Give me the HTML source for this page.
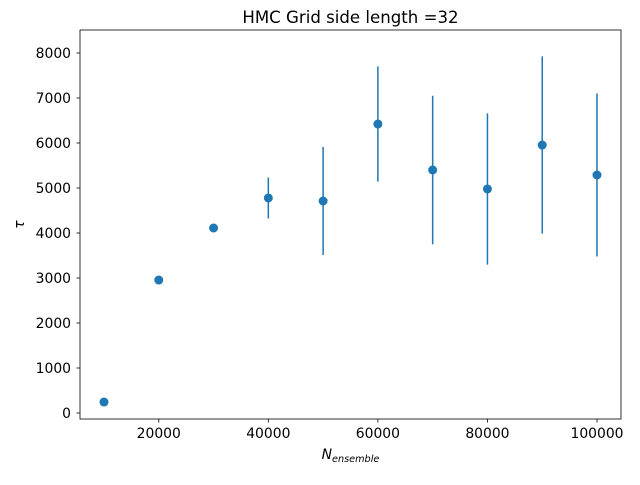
<!DOCTYPE html>
<html><head><meta charset="utf-8"><style>
body{margin:0;background:#fff;}
svg text{font-family:"DejaVu Sans","Liberation Sans",sans-serif;}
</style></head><body>
<svg width="640" height="480" xmlns="http://www.w3.org/2000/svg">
<rect width="640" height="480" fill="#fff"/>
<g id="plot"></g>
</svg>
<script>
const categories=[10000,20000,30000,40000,50000,60000,70000,80000,90000,100000];
const tauValues=[244,2955,4111,4778,4711,6422,5400,4978,5955,5289];
const tauErrors=[0,0,0,455,1200,1280,1650,1680,1970,1810];
const xTicks=[20000,40000,60000,80000,100000];
const yTicks=[0,1000,2000,3000,4000,5000,6000,7000,8000];
const L=80,R=621,T=30,B=419;
const sx=v=>104+(v-10000)*(597-104)/90000;
const sy=v=>413-v*0.045;
const NS="http://www.w3.org/2000/svg";
const g=document.getElementById('plot');
function mk(t,a,p){const e=document.createElementNS(NS,t);for(const k in a)e.setAttribute(k,a[k]);(p||g).appendChild(e);return e;}
const frame=mk('rect',{x:L,y:T,width:R-L,height:B-T,fill:'none',stroke:'#000','stroke-width':0.8});


xTicks.forEach(v=>{const x=sx(v);
 const l=mk('line',{x1:x,x2:x,y1:B,y2:B+3.5,stroke:'#000','stroke-width':0.8});
 
 
 const t=mk('text',{x:x,y:B+19,'font-size':13.9,'text-anchor':'middle'});t.textContent=v;
 
 
});
yTicks.forEach(v=>{const y=sy(v);
 const l=mk('line',{x1:L-3.5,x2:L,y1:y,y2:y,stroke:'#000','stroke-width':0.8});
 
 
 const t=mk('text',{x:L-9,y:y+5,'font-size':13.9,'text-anchor':'end'});t.textContent=v;
 
 
});
categories.forEach((c,i)=>{const x=sx(c);
 if(tauErrors[i]>0){const e=mk('line',{x1:x,x2:x,y1:sy(tauValues[i]+tauErrors[i]),y2:sy(tauValues[i]-tauErrors[i]),stroke:'#1f77b4','stroke-width':1.5});
 
 }
 const p=mk('circle',{cx:x,cy:sy(tauValues[i]),r:4.5,fill:'#1f77b4'});
 
 
});
const ti=mk('text',{x:(L+R)/2,y:T-7,'font-size':16.6,'text-anchor':'middle'});ti.textContent='HMC Grid side length =32';


const xl=mk('text',{x:(L+R)/2,y:459,'font-size':13.9,'text-anchor':'middle','font-style':'italic'});
xl.innerHTML='N<tspan font-size="9.7" dy="3">ensemble</tspan>';


const yl=mk('text',{x:24,y:(T+B)/2,'font-size':13.9,'text-anchor':'middle','font-style':'italic',transform:`rotate(-90 24 ${(T+B)/2})`});yl.textContent='τ';


</script>
</body></html>
